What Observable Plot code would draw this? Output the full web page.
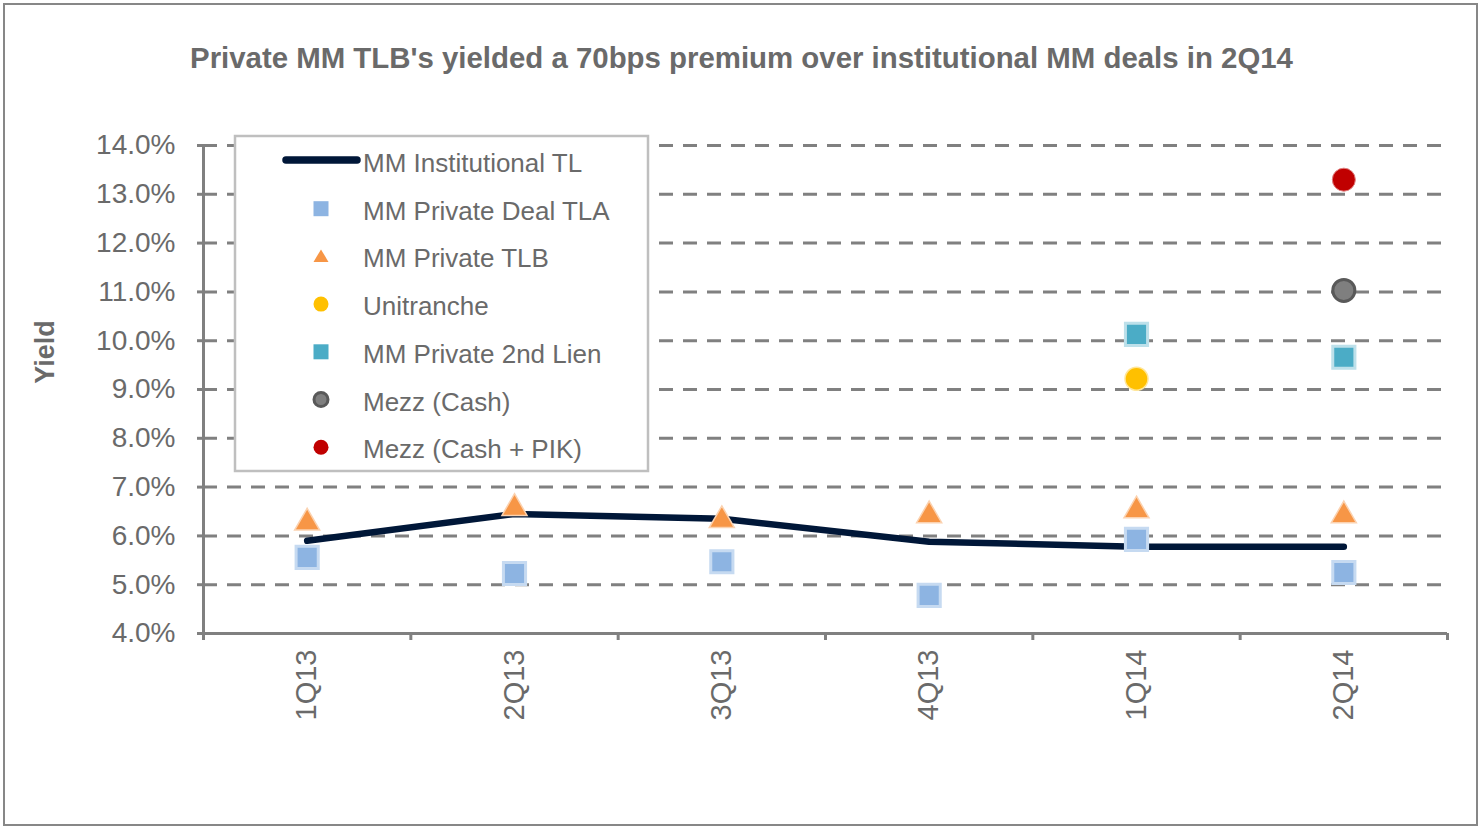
<!DOCTYPE html>
<html><head><meta charset="utf-8">
<script src="https://cdn.jsdelivr.net/npm/d3@7"></script>
<script src="https://cdn.jsdelivr.net/npm/@observablehq/plot@0.6"></script>
<style>
body{margin:0;background:#fff;font-family:"Liberation Sans",Arial,sans-serif;}
#wrap{position:relative;width:1483px;height:829px;overflow:hidden;background:#fff;}
#border{position:absolute;left:3px;top:3px;width:1475px;height:823px;box-sizing:border-box;border:2.5px solid #878787;}
#title{position:absolute;left:0;top:43px;width:1483px;text-align:center;font-weight:bold;font-size:29.4px;line-height:29px;color:#6a6a6a;white-space:nowrap;}
#ylabel{position:absolute;left:45px;top:352px;transform:translate(-50%,-50%) rotate(-90deg);font-weight:bold;font-size:27px;color:#6a6a6a;white-space:nowrap;}
#chart{position:absolute;left:0;top:0;}
#legend{position:absolute;left:233px;top:134px;}
#chart svg text{fill:#6a6a6a;}
</style></head>
<body>
<div id="wrap">
  <div id="chart"></div>
  <div id="border"></div>
  <div id="title"></div>
  <div id="ylabel">Yield</div>
  <div id="legend"></div>
</div>
<script>
const chartTitle = "Private MM TLB's yielded a 70bps premium over institutional MM deals in 2Q14";
const quarters = ["1Q13","2Q13","3Q13","4Q13","1Q14","2Q14"];
const institutionalTL = [5.9, 6.45, 6.35, 5.88, 5.78, 5.78];
const privateDealTLA = [5.56, 5.23, 5.47, 4.78, 5.93, 5.25];
const privateTLB = [6.35, 6.65, 6.4, 6.5, 6.6, 6.5];
const unitranche = [null, null, null, null, 9.22, null];
const secondLien = [null, null, null, null, 10.13, 9.66];
const mezzCash = [null, null, null, null, null, 11.03];
const mezzCashPIK = [null, null, null, null, null, 13.3];
const yTicks = [4, 5, 6, 7, 8, 9, 10, 11, 12, 13, 14];
const seriesNames = ["MM Institutional TL","MM Private Deal TLA","MM Private TLB","Unitranche","MM Private 2nd Lien","Mezz (Cash)","Mezz (Cash + PIK)"];
const seriesColors = ["#001738","#8db4e2","#f79646","#ffc000","#4bacc6","#7f7f7f","#c00000"];
const seriesSymbols = ["line","square","triangle","circle","square","circle","circle"];

document.getElementById("title").textContent = chartTitle;

const pts = arr => arr.map((v, i) => ({x: i + 0.5, y: v, q: quarters[i]})).filter(d => d.y != null);
const gridGray = "#808080";

const chart = Plot.plot({
  width: 1483,
  height: 829,
  marginLeft: 203,
  marginRight: 36,
  marginTop: 145,
  marginBottom: 196,
  style: {fontFamily: "'Liberation Sans', Arial, sans-serif", background: "transparent", overflow: "visible"},
  x: {type: "linear", domain: [0, quarters.length]},
  y: {domain: [4, 14]},
  marks: [
    Plot.gridY({ticks: yTicks.filter(t => t > 4), stroke: gridGray, strokeOpacity: 1, strokeWidth: 3, strokeDasharray: "14,10"}),
    Plot.ruleX([0], {stroke: gridGray, strokeWidth: 3}),
    Plot.ruleY([4], {stroke: gridGray, strokeWidth: 3}),
    Plot.axisY({ticks: yTicks, tickFormat: d => d.toFixed(1) + "%", tickSize: 6, tickPadding: 22, fontSize: 28, stroke: gridGray, strokeWidth: 3, label: null}),
    Plot.axisX({ticks: d3.range(0, quarters.length + 1), tickFormat: () => "", tickSize: 7, stroke: gridGray, strokeWidth: 3, label: null}),
    Plot.axisX({ticks: quarters.map((q, i) => i + 0.5), tickFormat: v => quarters[Math.round(v - 0.5)], tickSize: 0, tickPadding: 16, tickRotate: -90, fontSize: 29, label: null}),
    Plot.line(pts(institutionalTL), {x: "x", y: "y", stroke: seriesColors[0], strokeWidth: 6.5, strokeLinecap: "round", strokeLinejoin: "round"}),
    Plot.dot(pts(privateDealTLA), {x: "x", y: "y", symbol: "square", r: 12.5, fill: seriesColors[1], stroke: "#c6daf1", strokeWidth: 3}),
    Plot.dot(pts(privateTLB), {x: "x", y: "y", symbol: "triangle", r: 9.3, dy: 4, fill: seriesColors[2], stroke: "#fbd2b0", strokeWidth: 1.5}),
    Plot.dot(pts(unitranche), {x: "x", y: "y", symbol: "circle", r: 11.5, fill: seriesColors[3], stroke: "#ffe699", strokeWidth: 1.5}),
    Plot.dot(pts(secondLien), {x: "x", y: "y", symbol: "square", r: 12.5, fill: seriesColors[4], stroke: "#bde0ea", strokeWidth: 3}),
    Plot.dot(pts(mezzCash), {x: "x", y: "y", symbol: "circle", r: 11, fill: seriesColors[5], stroke: "#595959", strokeWidth: 3}),
    Plot.dot(pts(mezzCashPIK), {x: "x", y: "y", symbol: "circle", r: 11.5, fill: seriesColors[6], stroke: "#e08080", strokeWidth: 1})
  ]
});
document.getElementById("chart").appendChild(chart);

// Legend
const L = d3.select("#legend").append("svg").attr("width", 420).attr("height", 342);
L.append("rect").attr("x", 2).attr("y", 2).attr("width", 413).attr("height", 335)
  .attr("fill", "#fff").attr("stroke", "#bfbfbf").attr("stroke-width", 2.5);
const ox = 233, oy = 134;
seriesNames.forEach((name, i) => {
  const base = 172 + 47.7 * i - oy;
  const cy = base - 11;
  const cx = 321 - ox;
  const sym = seriesSymbols[i];
  const col = seriesColors[i];
  if (sym === "line") {
    L.append("line").attr("x1", 286 - ox).attr("x2", 357 - ox).attr("y1", 160 - oy).attr("y2", 160 - oy)
      .attr("stroke", col).attr("stroke-width", 7.5).attr("stroke-linecap", "round");
  } else if (sym === "square") {
    L.append("rect").attr("x", cx - 7.5).attr("y", cy - 7.5).attr("width", 15).attr("height", 15).attr("fill", col);
  } else if (sym === "triangle") {
    L.append("path").attr("d", `M${cx},${cy - 7} L${cx + 7.5},${cy + 5.5} L${cx - 7.5},${cy + 5.5} Z`).attr("fill", col);
  } else {
    const isMezz = name === "Mezz (Cash)";
    L.append("circle").attr("cx", cx).attr("cy", cy).attr("r", isMezz ? 7 : 7.5).attr("fill", col)
      .attr("stroke", isMezz ? "#595959" : "none").attr("stroke-width", isMezz ? 3 : 0);
  }
  L.append("text").attr("x", 363 - ox).attr("y", base).text(name)
    .attr("font-size", 26).attr("fill", "#6a6a6a").attr("font-family", "'Liberation Sans', Arial, sans-serif");
});
</script>
</body></html>
